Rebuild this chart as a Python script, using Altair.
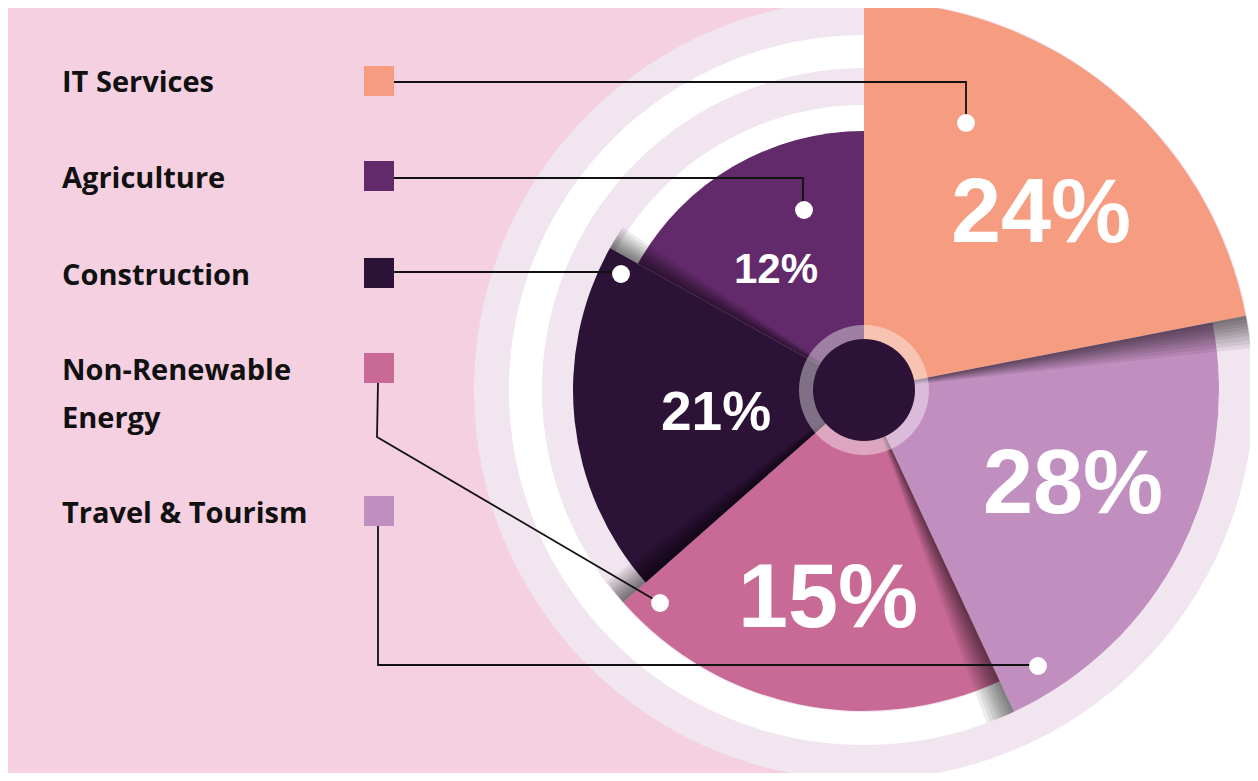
import math
import altair as alt
import pandas as pd

# ---------------- data ----------------
categories = ["IT Services", "Travel & Tourism", "Non-Renewable Energy", "Construction", "Agriculture"]
shares = [24, 28, 15, 21, 12]                 # percentages shown
sweep_deg = [79.0, 76.0, 73.6, 70.6, 60.8]    # angular span of each slice as drawn
slice_radius = [389, 355, 321, 291, 259]      # outer radius of each slice as drawn
slice_colors = ["#F69C80", "#C18EC0", "#C96A96", "#2C1236", "#622A6A"]

legend_order = ["IT Services", "Agriculture", "Construction", "Non-Renewable Energy", "Travel & Tourism"]

# ---------------- layout (reference pixel coordinates) ----------------
OFF = 8
W, H = 1242, 765
CX, CY = 864 - OFF, 390 - OFF

ring_r = [390, 355, 322, 285]
ring_c = ["#F1E5F0", "#FFFFFF", "#F1E5F0", "#FFFFFF"]

legend_label_lines = [("IT Services", 62, 92), ("Agriculture", 62, 188), ("Construction", 62, 285),
                      ("Non-Renewable", 62, 380), ("Energy", 62, 428), ("Travel & Tourism", 62, 523)]
legend_square_y = [66, 161, 258, 353, 496]
legend_square_x = (364, 394)

leader_paths = {
    "IT Services": [(393, 82), (966, 82), (966, 118)],
    "Agriculture": [(393, 178), (803, 178), (803, 205)],
    "Construction": [(393, 272), (616, 272)],
    "Non-Renewable Energy": [(378, 383), (377, 437), (655, 600)],
    "Travel & Tourism": [(378, 525), (378, 665), (1034, 665)],
}
dots = {
    "IT Services": (966, 123), "Agriculture": (804, 210), "Construction": (621, 274),
    "Non-Renewable Energy": (660, 603), "Travel & Tourism": (1038, 666),
}
pct_label_pos = {  # center x, baseline y, font size
    "IT Services": (1041, 242, 90), "Travel & Tourism": (1073, 513, 90),
    "Non-Renewable Energy": (828, 627, 90), "Construction": (716, 430, 55), "Agriculture": (776, 283, 42),
}
shadow_spans = [0.5, 1.0, 1.5, 2.0, 2.5, 3.0, 3.6, 4.2, 4.8]   # soft drop-shadow steps (degrees)

color_scale = alt.Scale(domain=categories, range=slice_colors)
theta_scale = alt.Scale(domain=[0, 360], range=[0, 2 * math.pi])

# ---------------- frames ----------------
slices = pd.DataFrame({
    "category": categories, "share": shares, "sweep": sweep_deg,
    "outer": slice_radius, "idx": list(range(len(categories))),
})
one = pd.DataFrame({"a": [0]})

line_rows = []
for name, pts in leader_paths.items():
    for k, (x, y) in enumerate(pts):
        line_rows.append({"line": name, "step": k, "x": x - OFF, "y": y - OFF})
lines_df = pd.DataFrame(line_rows)

dots_df = pd.DataFrame([{"category": k, "x": v[0] - OFF, "y": v[1] - OFF} for k, v in dots.items()])

squares_df = pd.DataFrame([{
    "category": c, "x": legend_square_x[0] - OFF, "x2": legend_square_x[1] - OFF,
    "y": y - OFF, "y2": y + 30 - OFF} for c, y in zip(legend_order, legend_square_y)])

labels_df = pd.DataFrame([{"t": t, "x": x - OFF, "y": y - OFF} for t, x, y in legend_label_lines])

pct_df = pd.DataFrame([{
    "category": c, "label": f"{s}%", "x": pct_label_pos[c][0] - OFF,
    "y": pct_label_pos[c][1] - OFF, "fs": pct_label_pos[c][2]} for c, s in zip(categories, shares)])

px = dict(scale=None, axis=None)
center = dict(x=alt.value(CX), y=alt.value(CY))

# ---------------- layers ----------------
bg = alt.Chart(one).mark_rect(color="#F4D0E1").encode(
    x=alt.value(0), x2=alt.value(863 - OFF), y=alt.value(0), y2=alt.value(778 - OFF))

ring_layers = [
    alt.Chart(one).mark_arc(radius=r, theta=0, theta2=2 * math.pi, color=c).encode(**center)
    for r, c in zip(ring_r, ring_c)
]

stacked = alt.Chart(slices).transform_stack(
    stack="sweep", groupby=[], as_=["t0", "t1"], sort=[alt.SortField("idx", order="ascending")]
)

pie = stacked.mark_arc().encode(
    theta=alt.Theta("t0:Q", scale=theta_scale, stack=None),
    theta2="t1:Q",
    radius=alt.Radius("outer:Q", scale=None, stack=None),
    color=alt.Color("category:N", scale=color_scale, legend=None),
    **center)

# each slice casts a soft shadow onto the next slice clockwise
shadow_layers = [
    stacked.transform_filter("datum.idx < 4").transform_calculate(
        s1=f"datum.t1 + {span}"
    ).mark_arc(color="#000000", opacity=0.07).encode(
        theta=alt.Theta("t1:Q", scale=theta_scale, stack=None),
        theta2="s1:Q",
        radius=alt.Radius("outer:Q", scale=None, stack=None),
        **center)
    for span in shadow_spans
]

hub_ring = alt.Chart(one).mark_arc(radius=65, radius2=50, theta=0, theta2=2 * math.pi,
                                   color="#FFFFFF", opacity=0.4).encode(**center)
hub = alt.Chart(one).mark_arc(radius=51, theta=0, theta2=2 * math.pi,
                              color="#2C1236").encode(**center)

leaders = alt.Chart(lines_df).mark_line(color="#111111", strokeWidth=1.8).encode(
    x=alt.X("x:Q", **px), y=alt.Y("y:Q", **px), detail="line:N", order="step:Q")

dot_layer = alt.Chart(dots_df).mark_circle(size=320, color="#FFFFFF", opacity=1).encode(
    x=alt.X("x:Q", **px), y=alt.Y("y:Q", **px))

squares = alt.Chart(squares_df).mark_rect().encode(
    x=alt.X("x:Q", **px), x2="x2:Q", y=alt.Y("y:Q", **px), y2="y2:Q",
    color=alt.Color("category:N", scale=color_scale, legend=None))

legend_text = alt.Chart(labels_df).mark_text(
    align="left", baseline="alphabetic", font="Open Sans", fontWeight="bold", fontSize=29, color="#111111"
).encode(x=alt.X("x:Q", **px), y=alt.Y("y:Q", **px), text="t:N")

pct_text = alt.Chart(pct_df).mark_text(
    align="center", baseline="alphabetic", font="Liberation Sans", fontWeight="bold", color="#FFFFFF"
).encode(x=alt.X("x:Q", **px), y=alt.Y("y:Q", **px), text="label:N",
         size=alt.Size("fs:Q", scale=None, legend=None))

chart = alt.layer(
    bg, *ring_layers, pie, *shadow_layers, hub_ring, hub, leaders, dot_layer, squares, legend_text, pct_text
).properties(
    width=W, height=H, padding=0, autosize="none", background="#FFFFFF"
).configure_view(stroke=None)

chart.save("out.html", embed_options={"renderer": "svg", "actions": False})
